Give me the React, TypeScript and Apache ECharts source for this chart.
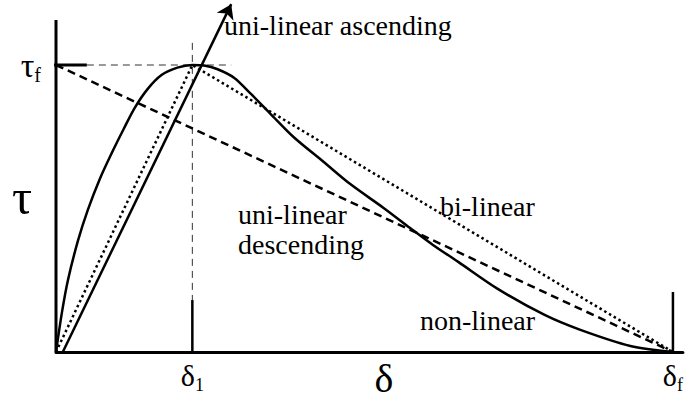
import React, { useEffect, useRef } from "react";
import * as echarts from "echarts";

// Normalised slip (δ / δf) and bond stress (τ / τf)
const DELTA_1 = 0.221;
const DELTA_F = 1;
const TAU_F = 1;

// non-linear bond-slip law
const nonLinearDelta = [
  0, 0.0097, 0.0194, 0.0355, 0.0516, 0.071, 0.0903, 0.1097, 0.1274, 0.1484, 0.171, 0.1968, 0.221,
  0.24, 0.261, 0.289, 0.316, 0.348, 0.385, 0.434, 0.477, 0.531, 0.574, 0.611, 0.652, 0.716,
  0.792, 0.85, 0.931, 1,
];
const nonLinearTau = [
  0, 0.139, 0.251, 0.387, 0.495, 0.603, 0.693, 0.777, 0.85, 0.916, 0.965, 0.991, 1,
  0.998, 0.986, 0.955, 0.899, 0.829, 0.749, 0.662, 0.585, 0.502, 0.432, 0.373, 0.314, 0.22,
  0.129, 0.077, 0.021, 0,
];

// bi-linear law
const biLinearDelta = [0, DELTA_1, DELTA_F];
const biLinearTau = [0, TAU_F, 0];

// uni-linear descending law
const descDelta = [0, DELTA_F];
const descTau = [TAU_F, 0];

// uni-linear ascending law (open-ended, drawn as an arrow)
const ascDelta = [0.011, 0.284];
const ascTau = [0, 1.212];

// tick labels
const xTickValues = [DELTA_1, DELTA_F];
const xTickLabels = ["{d|δ}{s|1}", "{d|δ}{s|f}"];
const yTickValues = [TAU_F];
const yTickLabels = ["{t|τ}{s|f}"];

const FONT = "'Liberation Serif', 'Times New Roman', serif";

const zip = (xs: number[], ys: number[]) => xs.map((x, i) => [x, ys[i]]);

export default function App() {
  const ref = useRef<HTMLDivElement>(null);

  useEffect(() => {
    if (!ref.current) return;
    const chart = echarts.init(ref.current, null, { renderer: "svg" });

    const black = "#000";
    const guide = (data: number[][], width: number, type: any, color = black) => ({
      type: "line",
      data,
      symbol: "none",
      clip: false,
      silent: true,
      lineStyle: { color, width, type },
      z: 1,
    });
    const label = (text: string, x: number, y: number) => ({
      type: "text",
      x,
      y,
      style: { text, fontFamily: FONT, fontSize: 28, fill: black, verticalAlign: "middle" },
    });

    chart.setOption({
      animation: false,
      backgroundColor: "#fff",
      grid: { left: 56, top: 0, width: 630, height: 352 },
      xAxis: {
        type: "value",
        min: 0,
        max: 630 / 620,
        splitLine: { show: false },
        axisTick: { show: false },
        axisLine: { show: true, onZero: false, lineStyle: { color: black, width: 3 } },
        axisLabel: {
          customValues: xTickValues,
          margin: 4,
          formatter: (v: number) => xTickLabels[xTickValues.indexOf(v)] ?? "",
          rich: {
            d: { fontFamily: FONT, fontSize: 30, color: black },
            s: { fontFamily: FONT, fontSize: 18, color: black, padding: [20, 0, 0, 0] },
          },
        },
      },
      yAxis: {
        type: "value",
        min: 0,
        max: 352 / 287,
        splitLine: { show: false },
        axisTick: { show: false },
        axisLine: { show: false },
        axisLabel: {
          customValues: yTickValues,
          margin: 15,
          formatter: (v: number) => yTickLabels[yTickValues.indexOf(v)] ?? "",
          rich: {
            t: { fontFamily: FONT, fontSize: 34, color: black },
            s: { fontFamily: FONT, fontSize: 20, color: black, padding: [20, 0, 0, 0] },
          },
        },
      },
      graphic: [
        { type: "text", x: 22, y: 197, style: { text: "τ", fontFamily: FONT, fontSize: 50, fill: black, align: "center", verticalAlign: "middle" } },
        { type: "text", x: 384, y: 378, style: { text: "δ", fontFamily: FONT, fontSize: 40, fill: black, align: "center", verticalAlign: "middle" } },
        label("uni-linear ascending", 224, 25),
        label("bi-linear", 440, 206),
        label("uni-linear", 238, 214),
        label("descending", 238, 244),
        label("non-linear", 420, 320),
      ],
      series: [
        // vertical axis line
        guide([[0, 0], [0, 1.157]], 3, "solid"),
        // τf tick and dashed guide
        guide([[-0.013, TAU_F], [0.05, TAU_F]], 3, "solid"),
        guide([[0.05, TAU_F], [0.284, TAU_F]], 1, [7, 5], "#333"),
        // δ1 dashed guide and tick
        guide([[DELTA_1, 1.077], [DELTA_1, 0.181]], 1, [7, 5], "#333"),
        guide([[DELTA_1, 0.181], [DELTA_1, 0]], 2.5, "solid"),
        // δf tick
        guide([[DELTA_F, 0.209], [DELTA_F, 0]], 2.5, "solid"),
        {
          name: "non-linear",
          type: "line",
          data: zip(nonLinearDelta, nonLinearTau),
          smooth: 0.3,
          symbol: "none",
          clip: false,
          lineStyle: { color: black, width: 2.5 },
          z: 3,
        },
        {
          name: "bi-linear",
          type: "line",
          data: zip(biLinearDelta, biLinearTau),
          symbol: "none",
          clip: false,
          lineStyle: { color: black, width: 2.5, type: [2.5, 3] },
          z: 3,
        },
        {
          name: "uni-linear descending",
          type: "line",
          data: zip(descDelta, descTau),
          symbol: "none",
          clip: false,
          lineStyle: { color: black, width: 2.5, type: [8, 5] },
          z: 3,
        },
        {
          name: "uni-linear ascending",
          type: "lines",
          coordinateSystem: "cartesian2d",
          symbol: ["none", "arrow"],
          symbolSize: 14,
          lineStyle: { color: black, width: 2.5, opacity: 1 },
          data: [{ coords: zip(ascDelta, ascTau) }],
          z: 4,
        },
      ],
    });

    return () => chart.dispose();
  }, []);

  return (
    <div
      ref={ref}
      style={{ position: "absolute", left: 0, top: 0, width: 686, height: 400, background: "#fff" }}
    />
  );
}
